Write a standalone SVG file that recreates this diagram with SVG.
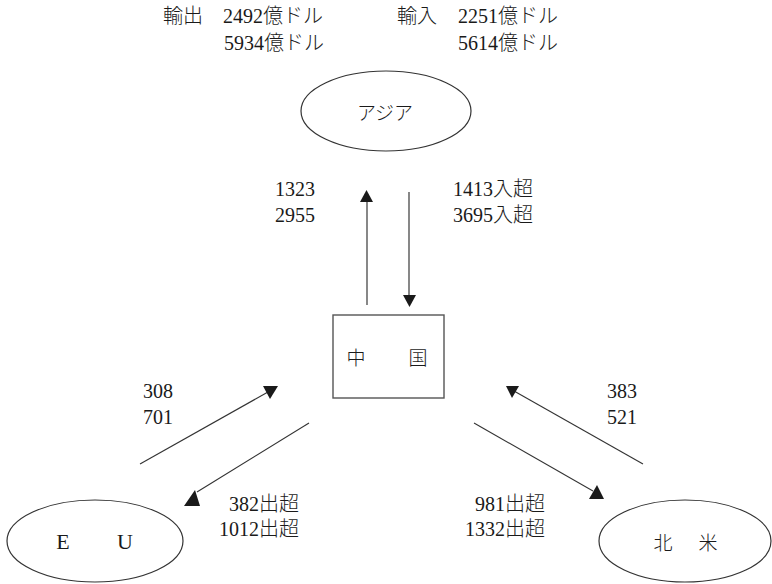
<svg xmlns="http://www.w3.org/2000/svg" width="772" height="584" viewBox="0 0 772 584">
<style>
  text { font-family: "Liberation Serif", "Noto Sans CJK JP", serif; font-size: 20px; font-weight: 300; fill: #1a1a1a; }
  .node { fill: #fff; stroke: #333; stroke-width: 1.2; }
  .lbl { font-size: 19px; }
  .lat { font-size: 22px; }
  .ln { stroke: #333; stroke-width: 1.1; fill: none; }
  .vln { stroke: #555; stroke-width: 1.4; fill: none; }
  .head { fill: #1a1a1a; stroke: none; }
</style>
<rect width="772" height="584" fill="#fff"/>

<g id="header">
  <text x="163" y="23">輸出</text>
  <text x="223" y="23">2492億ドル</text>
  <text x="224" y="50">5934億ドル</text>
  <text x="397" y="23">輸入</text>
  <text x="458" y="23">2251億ドル</text>
  <text x="458" y="50">5614億ドル</text>
</g>

<g id="asia">
  <ellipse class="node" cx="386" cy="111" rx="85" ry="40"/>
  <text class="lbl" x="385" y="120" text-anchor="middle">アジア</text>
</g>

<g id="china">
  <rect class="node" x="333" y="315" width="111" height="83" style="stroke:#555;stroke-width:1.4"/>
  <text class="lbl" x="356" y="365" text-anchor="middle">中</text>
  <text class="lbl" x="418" y="365" text-anchor="middle">国</text>
</g>

<g id="eu">
  <ellipse class="node" cx="95" cy="541" rx="88" ry="41"/>
  <text class="lat" x="63" y="549" text-anchor="middle">E</text>
  <text class="lat" x="125" y="549" text-anchor="middle">U</text>
</g>

<g id="northamerica">
  <ellipse class="node" cx="685" cy="541" rx="86" ry="41"/>
  <text class="lbl" x="663" y="550" text-anchor="middle">北</text>
  <text class="lbl" x="708" y="550" text-anchor="middle">米</text>
</g>

<g id="connectors">
  <line class="vln" x1="367" y1="305" x2="367" y2="200"/>
  <polygon class="head" points="360,202 373,202 366.5,190"/>
  <line class="vln" x1="409" y1="192" x2="409" y2="297"/>
  <polygon class="head" points="403,295 416,295 409.5,307"/>

  <line class="ln" x1="140" y1="464" x2="268" y2="392"/>
  <polygon class="head" points="263,386 278,386 270,399"/>
  <line class="ln" x1="643" y1="464" x2="514" y2="391"/>
  <polygon class="head" points="506,386 519,386 512,398"/>

  <line class="ln" x1="309" y1="423" x2="197" y2="492"/>
  <polygon class="head" points="184,506 200,506 195,490"/>
  <line class="ln" x1="474" y1="423" x2="593" y2="491"/>
  <polygon class="head" points="589,499 604,499 597,485"/>
</g>

<g id="labels">
  <text x="275" y="196">1323</text>
  <text x="275" y="222">2955</text>
  <text x="453" y="196">1413入超</text>
  <text x="453" y="222">3695入超</text>
  <text x="143" y="398">308</text>
  <text x="143" y="424">701</text>
  <text x="607" y="398">383</text>
  <text x="607" y="424">521</text>
  <text x="299" y="511" text-anchor="end">382出超</text>
  <text x="299" y="536" text-anchor="end">1012出超</text>
  <text x="545" y="511" text-anchor="end">981出超</text>
  <text x="545" y="536" text-anchor="end">1332出超</text>
</g>
</svg>
